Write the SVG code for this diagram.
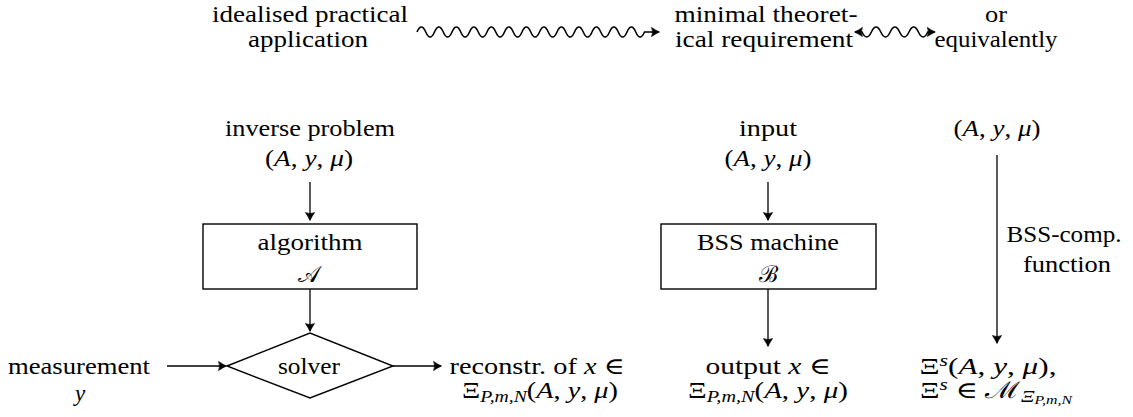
<svg xmlns="http://www.w3.org/2000/svg" width="1133" height="417" viewBox="0 0 1133 417">
<style>
text{font-family:"Liberation Serif","DejaVu Serif",serif;font-size:23px;fill:#000;text-anchor:middle}
.i{font-style:italic}
.sub{font-size:16px;font-style:italic}
.subsub{font-size:12px;font-style:italic}
.ln{fill:none;stroke:#000;stroke-width:1.3}
.wv{fill:none;stroke:#000;stroke-width:1.6}
.box{fill:#fff;stroke:#000;stroke-width:1.4}
</style>
<defs>
<marker id="ah" markerUnits="userSpaceOnUse" markerWidth="14" markerHeight="14" viewBox="-10 -7 12 14" refX="0" refY="0" orient="auto-start-reverse">
<path d="M0.5,0 Q-3,-1.6 -7.5,-4.6 Q-5.3,0 -7.5,4.6 Q-3,1.6 0.5,0Z" fill="#000" stroke="#000" stroke-width="0.6" stroke-linejoin="round"/>
</marker>
</defs>
<rect width="1133" height="417" fill="#fff"/>
<g id="connectors">
<path class="wv" marker-end="url(#ah)" d="M417 32 q4.375 -10 8.75 0 t8.75 0 t8.75 0 t8.75 0 t8.75 0 t8.75 0 t8.75 0 t8.75 0 t8.75 0 t8.75 0 t8.75 0 t8.75 0 t8.75 0 t8.75 0 t8.75 0 t8.75 0 t8.75 0 t8.75 0 t8.75 0 t8.75 0 t8.75 0 t8.75 0 t8.75 0 t8.75 0 t8.75 0 t8.75 0 l14.5 0"/>
<path class="wv" marker-start="url(#ah)" marker-end="url(#ah)" d="M855 32 l7 0 q4.7 10 9.4 0 t9.4 0 t9.4 0 t9.4 0 t9.4 0 t9.4 0 t9.4 0 l7 0"/>
<path class="ln" marker-end="url(#ah)" d="M310 182 V220"/>
<path class="ln" marker-end="url(#ah)" d="M310 289 V331"/>
<path class="ln" marker-end="url(#ah)" d="M167 366 H226"/>
<path class="ln" marker-end="url(#ah)" d="M393 366 H441"/>
<path class="ln" marker-end="url(#ah)" d="M768 182 V220"/>
<path class="ln" marker-end="url(#ah)" d="M768 289 V346"/>
<path class="ln" marker-end="url(#ah)" d="M997 155 V343"/>
<text x="1064" y="242" textLength="115" lengthAdjust="spacingAndGlyphs">BSS-comp.</text>
<text x="1067" y="272" textLength="88" lengthAdjust="spacingAndGlyphs">function</text>
</g>
<g id="top-left">
<text x="310" y="22" textLength="196" lengthAdjust="spacingAndGlyphs">idealised practical</text>
<text x="308" y="47" textLength="120" lengthAdjust="spacingAndGlyphs">application</text>
</g>
<g id="top-mid">
<text x="766" y="22" textLength="183" lengthAdjust="spacingAndGlyphs">minimal theoret-</text>
<text x="764" y="47" textLength="178" lengthAdjust="spacingAndGlyphs">ical requirement</text>
</g>
<g id="top-right">
<text x="996" y="22" textLength="22" lengthAdjust="spacingAndGlyphs">or</text>
<text x="996" y="47" textLength="123" lengthAdjust="spacingAndGlyphs">equivalently</text>
</g>
<g id="inverse-problem">
<text x="310" y="136" textLength="170" lengthAdjust="spacingAndGlyphs">inverse problem</text>
<text x="309" y="166" textLength="88" lengthAdjust="spacingAndGlyphs">(<tspan class="i">A</tspan>, <tspan class="i">y</tspan>, <tspan class="i">μ</tspan>)</text>
</g>
<g id="algorithm">
<rect class="box" x="203" y="224" width="214" height="65"/>
<text x="310" y="250" textLength="105" lengthAdjust="spacingAndGlyphs">algorithm</text>
<text x="309" y="282">𝒜</text>
</g>
<g id="solver">
<path class="box" d="M227 366 L310 333 L393 366 L310 398 Z"/>
<text x="309" y="374" textLength="62" lengthAdjust="spacingAndGlyphs">solver</text>
</g>
<g id="measurement">
<text x="79" y="374" textLength="142" lengthAdjust="spacingAndGlyphs">measurement</text>
<text x="80" y="401" class="i">y</text>
</g>
<g id="reconstr">
<text x="537" y="374" textLength="175" lengthAdjust="spacingAndGlyphs">reconstr.  of <tspan class="i">x</tspan> ∈</text>
<text x="540" y="398" textLength="156" lengthAdjust="spacingAndGlyphs">Ξ<tspan class="sub" dy="4">P,m,N</tspan><tspan dy="-4">(</tspan><tspan class="i">A</tspan>, <tspan class="i">y</tspan>, <tspan class="i">μ</tspan>)</text>
</g>
<g id="input">
<text x="768" y="136" textLength="58" lengthAdjust="spacingAndGlyphs">input</text>
<text x="768" y="166" textLength="87" lengthAdjust="spacingAndGlyphs">(<tspan class="i">A</tspan>, <tspan class="i">y</tspan>, <tspan class="i">μ</tspan>)</text>
</g>
<g id="bss-machine">
<rect class="box" x="661" y="224" width="215" height="65"/>
<text x="768" y="250" textLength="142" lengthAdjust="spacingAndGlyphs">BSS machine</text>
<text x="768" y="282">ℬ</text>
</g>
<g id="output">
<text x="768" y="374" textLength="125" lengthAdjust="spacingAndGlyphs">output <tspan class="i">x</tspan>  ∈</text>
<text x="768" y="398" textLength="160" lengthAdjust="spacingAndGlyphs">Ξ<tspan class="sub" dy="4">P,m,N</tspan><tspan dy="-4">(</tspan><tspan class="i">A</tspan>, <tspan class="i">y</tspan>, <tspan class="i">μ</tspan>)</text>
</g>
<g id="right-input">
<text x="997" y="136" textLength="87" lengthAdjust="spacingAndGlyphs">(<tspan class="i">A</tspan>, <tspan class="i">y</tspan>, <tspan class="i">μ</tspan>)</text>
</g>
<g id="right-output">
<text x="988" y="374" textLength="137" lengthAdjust="spacingAndGlyphs">Ξ<tspan class="sub" dy="-8">s</tspan><tspan dy="8">(</tspan><tspan class="i">A</tspan>, <tspan class="i">y</tspan>, <tspan class="i">μ</tspan>),</text>
<text x="996" y="398" textLength="152" lengthAdjust="spacingAndGlyphs">Ξ<tspan class="sub" dy="-8">s</tspan><tspan dy="8"> ∈ ℳ</tspan><tspan class="sub" dy="4" font-style="normal">Ξ</tspan><tspan class="subsub" dy="2">P,m,N</tspan></text>
</g>
</svg>
